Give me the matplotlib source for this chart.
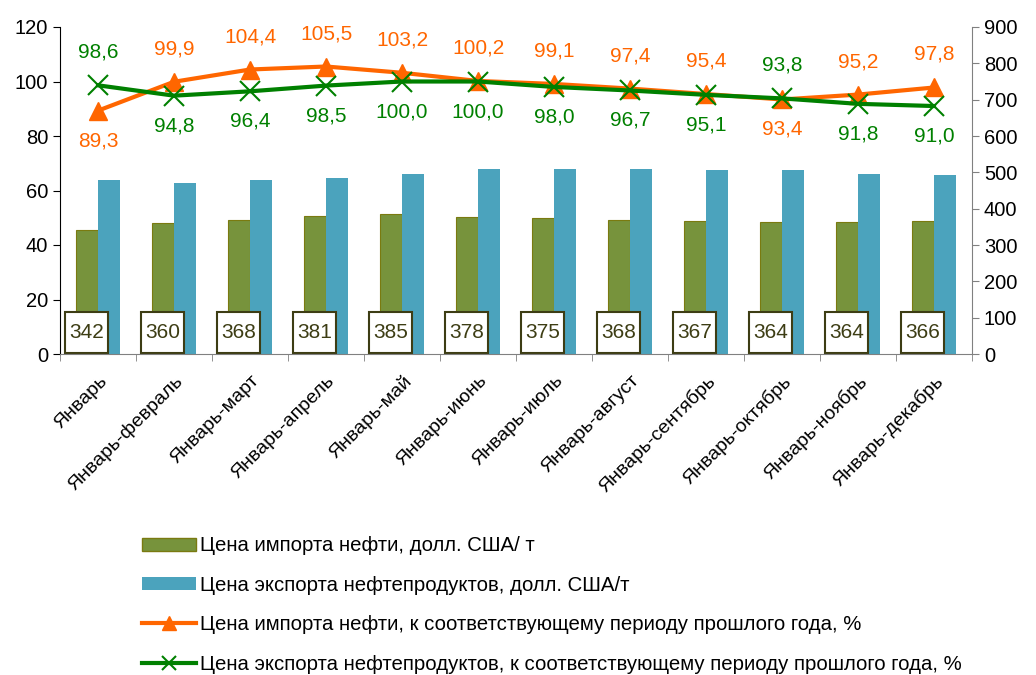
import numpy as np
import matplotlib
matplotlib.use("Agg")
import matplotlib.pyplot as plt
from matplotlib.patches import Rectangle, Patch
from matplotlib.lines import Line2D

plt.rcParams['font.family'] = ['Liberation Sans', 'DejaVu Sans']

# data
periods = ['Январь', 'Январь-февраль', 'Январь-март', 'Январь-апрель', 'Январь-май',
           'Январь-июнь', 'Январь-июль', 'Январь-август', 'Январь-сентябрь',
           'Январь-октябрь', 'Январь-ноябрь', 'Январь-декабрь']
import_price = [342, 360, 368, 381, 385, 378, 375, 368, 367, 364, 364, 366]
export_price = [479, 471, 479, 485, 496, 509, 509, 509, 507, 507, 496, 493]
import_pct = [89.3, 99.9, 104.4, 105.5, 103.2, 100.2, 99.1, 97.4, 95.4, 93.4, 95.2, 97.8]
export_pct = [98.6, 94.8, 96.4, 98.5, 100.0, 100.0, 98.0, 96.7, 95.1, 93.8, 91.8, 91.0]
# label placement: True = above the marker
import_above = [False, True, True, True, True, True, True, True, True, False, True, True]
export_above = [True, False, False, False, False, False, False, False, False, True, False, False]

legend_labels = ['Цена импорта нефти, долл. США/ т',
                 'Цена экспорта нефтепродуктов, долл. США/т',
                 'Цена импорта нефти, к соответствующему периоду прошлого года, %',
                 'Цена экспорта нефтепродуктов, к соответствующему периоду прошлого года, %']

c_olive = '#77933C'
c_olive_edge = '#7a7a10'
c_blue = '#4BA3BD'
c_orange = '#FF6600'
c_green = '#008000'
c_box = '#3d3d14'

fig = plt.figure(figsize=(10.36, 6.75), dpi=100)
ax = fig.add_axes([60/1036, 1-354/675, 912/1036, 327/675])
ax2 = ax.twinx()
ax.set_zorder(ax2.get_zorder() + 1)
ax.patch.set_visible(False)

x = np.arange(len(periods))
w = 0.295
ax2.bar(x - w/2, import_price, w, color=c_olive, edgecolor=c_olive_edge, linewidth=0.8)
ax2.bar(x + w/2, export_price, w, color=c_blue, linewidth=0)
ax2.set_ylim(0, 900)
ax2.set_yticks(np.arange(0, 901, 100))

# boxed value labels for import price
for xi, v in zip(x, import_price):
    ax2.add_patch(Rectangle((xi - w/2 - 0.285, 3), 0.57, 112, facecolor='white',
                            edgecolor=c_box, linewidth=1.5, zorder=4))
    ax2.text(xi - w/2, 59, str(v), ha='center', va='center', fontsize=15,
             color=c_box, zorder=5)

ax.plot(x, import_pct, color=c_orange, lw=3, marker='^', ms=13, zorder=3)
ax.plot(x, export_pct, color=c_green, lw=3, marker='x', ms=15, mew=1.5, zorder=4)

for xi, v, up in zip(x, import_pct, import_above):
    ax.annotate(f'{v:.1f}'.replace('.', ','), (xi, v), xytext=(0, 33 if up else -30),
                textcoords='offset pixels', ha='center', va='center', fontsize=15, color=c_orange)
for xi, v, up in zip(x, export_pct, export_above):
    ax.annotate(f'{v:.1f}'.replace('.', ','), (xi, v), xytext=(0, 33 if up else -30),
                textcoords='offset pixels', ha='center', va='center', fontsize=15, color=c_green)

ax.set_ylim(0, 120)
ax.set_yticks(np.arange(0, 121, 20))
ax.set_xlim(-0.5, len(periods) - 0.5)
ax.set_xticks(x)
ax.set_xticklabels(periods, rotation=45, ha='right', va='top', rotation_mode='anchor', fontsize=14)
ax.set_xticks(np.arange(-0.5, len(periods)), minor=True)
ax.tick_params(axis='x', which='major', length=0, pad=13)
ax.tick_params(axis='x', which='minor', length=5, color='#808080')
ax.tick_params(axis='y', labelsize=14.5, length=5)
ax2.tick_params(axis='y', labelsize=14.5, length=5, color='#808080')

for a in (ax, ax2):
    a.spines['top'].set_visible(False)
ax.spines['bottom'].set_color('#808080')
ax2.spines['bottom'].set_visible(False)
ax.spines['right'].set_visible(False)
ax2.spines['left'].set_visible(False)
ax2.spines['right'].set_color('#808080')

handles = [Patch(facecolor=c_olive, edgecolor=c_olive_edge),
           Patch(facecolor=c_blue),
           Line2D([], [], color=c_orange, lw=3, marker='^', ms=10),
           Line2D([], [], color=c_green, lw=3, marker='x', ms=10, mew=1.5)]
fig.legend(handles, legend_labels, loc='upper left', bbox_to_anchor=(124/1036, 1-518/675),
           frameon=False, fontsize=14.7, handlelength=2.65, handleheight=0.6,
           handletextpad=0.15, labelspacing=1.0)

fig.savefig('out.png', dpi=100)
